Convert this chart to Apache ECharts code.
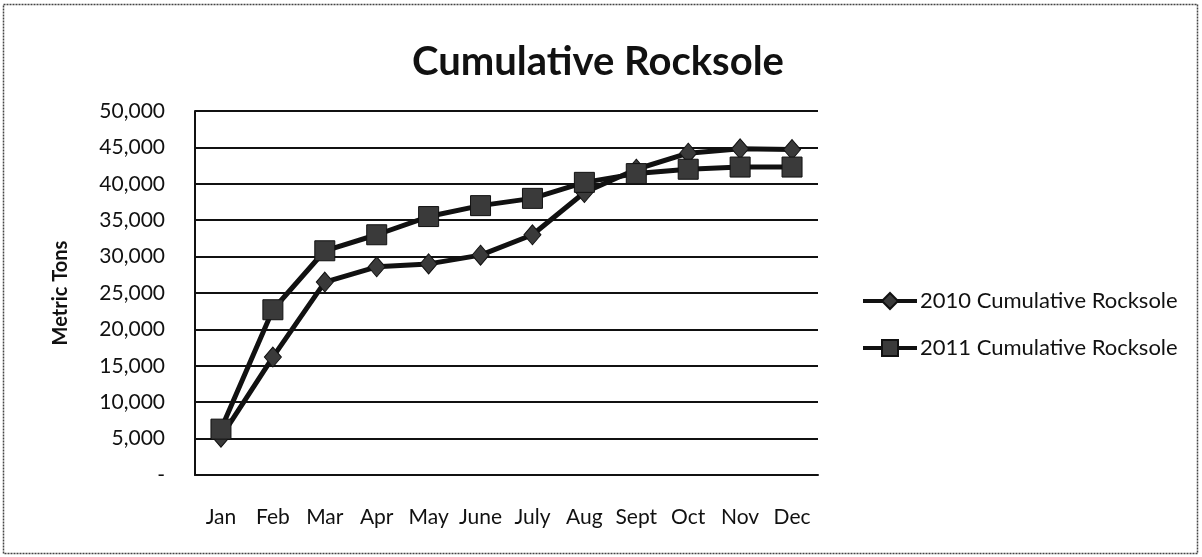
<!DOCTYPE html>
<html><head><meta charset="utf-8">
<script src="https://cdn.jsdelivr.net/npm/echarts@6/dist/echarts.min.js"></script>
<style>html,body{margin:0;padding:0;background:#fff}#c{width:1202px;height:557px}</style>
</head><body><div id="c"></div>
<script>
var categories = ['Jan','Feb','Mar','Apr','May','June','July','Aug','Sept','Oct','Nov','Dec'];
var rock2010 = [5200, 16200, 26500, 28600, 29000, 30200, 33000, 38800, 42000, 44200, 44800, 44700];
var rock2011 = [6300, 22700, 30800, 33000, 35500, 37000, 38000, 40200, 41400, 42000, 42300, 42300];
var seriesNames = ['2010 Cumulative Rocksole', '2011 Cumulative Rocksole'];

var FONT = 'Lato, "Open Sans", sans-serif';
var chart = echarts.init(document.getElementById('c'), null, {renderer: 'canvas'});
chart.setOption({
  animation: false,
  backgroundColor: '#fff',
  title: {
    text: 'Cumulative Rocksole', left: 593, top: 37, textAlign: 'center',
    textStyle: {fontFamily: FONT, fontSize: 40, fontWeight: 'bold', color: '#111'}
  },
  graphic: [{
    type: 'rect', shape: {x: 3.5, y: 4.5, width: 1194, height: 549},
    style: {fill: 'none', stroke: '#444', lineWidth: 1.5, lineDash: [2, 1]}, silent: true
  }],
  legend: {
    orient: 'vertical', left: 856, top: 285, itemGap: 25,
    itemWidth: 54, itemHeight: 20,
    lineStyle: {width: 4, color: '#111'},
    textStyle: {fontFamily: FONT, fontSize: 22, color: '#111', padding: [0, 0, 0, -2]},
    data: seriesNames
  },
  grid: {left: 195, right: 384, top: 111, bottom: 82},
  xAxis: {
    type: 'category', data: categories, boundaryGap: true,
    axisLine: {lineStyle: {color: '#111', width: 2}},
    axisTick: {show: false},
    axisLabel: {margin: 32, fontFamily: FONT, fontSize: 21, color: '#111', interval: 0}
  },
  yAxis: {
    type: 'value', min: 0, max: 50000, interval: 5000,
    name: 'Metric Tons', nameLocation: 'middle', nameGap: 124, nameRotate: 90,
    nameTextStyle: {fontFamily: FONT, fontSize: 20, fontWeight: 'bold', color: '#111'},
    axisLine: {show: true, lineStyle: {color: '#111', width: 2}},
    axisTick: {show: false},
    splitLine: {lineStyle: {color: '#111', width: 2}},
    axisLabel: {
      margin: 30, fontFamily: FONT, fontSize: 21, color: '#111',
      formatter: function (v) { return v === 0 ? '-' : v.toLocaleString('en-US'); }
    }
  },
  series: [{
    name: seriesNames[0], type: 'line', data: rock2010,
    symbol: 'diamond', symbolSize: [17, 20],
    lineStyle: {color: '#111', width: 5},
    itemStyle: {color: '#3a3a3a', borderColor: '#111', borderWidth: 1}
  }, {
    name: seriesNames[1], type: 'line', data: rock2011,
    symbol: 'rect', symbolSize: 20,
    lineStyle: {color: '#111', width: 5},
    itemStyle: {color: '#3a3a3a', borderColor: '#111', borderWidth: 1}
  }]
});
</script></body></html>
